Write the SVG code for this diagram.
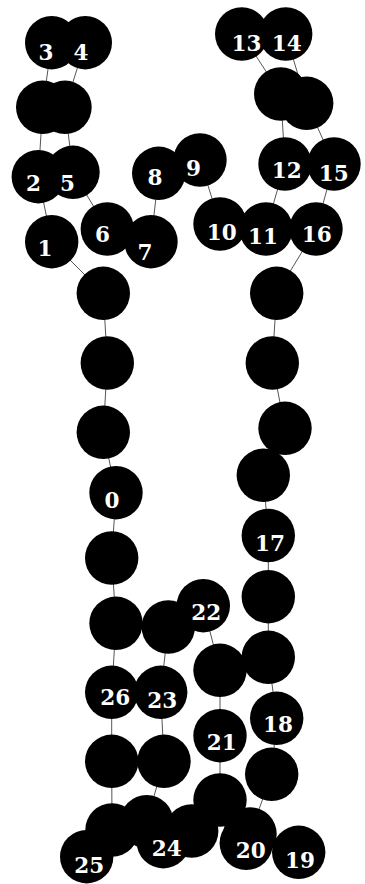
<svg xmlns="http://www.w3.org/2000/svg" width="365" height="884" viewBox="0 0 365 884">
<style>
.n{fill:#000}
.e{stroke:#555;stroke-width:1;fill:none}
.t{fill:#fff;font-family:"DejaVu Serif","Liberation Serif",serif;font-weight:bold;font-size:21.5px;text-anchor:middle}
</style>
<rect width="365" height="884" fill="#fff"/>
<g id="connectors">
<line class="e" x1="51.7" y1="42.7" x2="42.7" y2="107.3"/>
<line class="e" x1="85.3" y1="42.7" x2="65" y2="107.3"/>
<line class="e" x1="42.7" y1="107.3" x2="38.3" y2="176.7"/>
<line class="e" x1="65" y1="107.3" x2="73" y2="172.3"/>
<line class="e" x1="38.3" y1="176.7" x2="51.7" y2="241.7"/>
<line class="e" x1="73" y1="172.3" x2="107.3" y2="229"/>
<line class="e" x1="51.7" y1="241.7" x2="103.3" y2="293.3"/>
<line class="e" x1="151" y1="241.7" x2="158.7" y2="173.3"/>
<line class="e" x1="200" y1="160" x2="220" y2="224"/>
<line class="e" x1="241.7" y1="34" x2="280.7" y2="94"/>
<line class="e" x1="285.7" y1="34" x2="306.7" y2="103.3"/>
<line class="e" x1="280.7" y1="94" x2="285" y2="164"/>
<line class="e" x1="306.7" y1="103.3" x2="334" y2="164"/>
<line class="e" x1="285" y1="164" x2="266" y2="229"/>
<line class="e" x1="334" y1="164" x2="316" y2="229"/>
<line class="e" x1="316" y1="229" x2="276.7" y2="293.3"/>
<line class="e" x1="103.3" y1="293.3" x2="107.3" y2="363"/>
<line class="e" x1="107.3" y1="363" x2="103.3" y2="432.3"/>
<line class="e" x1="103.3" y1="432.3" x2="116" y2="492.7"/>
<line class="e" x1="116" y1="492.7" x2="111.7" y2="558"/>
<line class="e" x1="111.7" y1="558" x2="116" y2="623.3"/>
<line class="e" x1="116" y1="623.3" x2="111.7" y2="692.3"/>
<line class="e" x1="111.7" y1="692.3" x2="111.7" y2="761.3"/>
<line class="e" x1="111.7" y1="761.3" x2="112" y2="830"/>
<line class="e" x1="168.3" y1="627" x2="160.7" y2="692.3"/>
<line class="e" x1="160.7" y1="692.3" x2="164" y2="761.3"/>
<line class="e" x1="164" y1="761.3" x2="146.7" y2="821.7"/>
<line class="e" x1="203.3" y1="605.7" x2="220" y2="670.3"/>
<line class="e" x1="220" y1="670.3" x2="220" y2="735.7"/>
<line class="e" x1="220" y1="735.7" x2="220" y2="800"/>
<line class="e" x1="276.7" y1="293.3" x2="272.3" y2="363"/>
<line class="e" x1="272.3" y1="363" x2="285" y2="428.3"/>
<line class="e" x1="263.3" y1="475.3" x2="268.3" y2="535.5"/>
<line class="e" x1="268.3" y1="535.5" x2="268.3" y2="596.7"/>
<line class="e" x1="268.3" y1="596.7" x2="268.3" y2="657.3"/>
<line class="e" x1="268.3" y1="657.3" x2="276.7" y2="718.3"/>
<line class="e" x1="276.7" y1="718.3" x2="271.7" y2="774.3"/>
<line class="e" x1="271.7" y1="774.3" x2="250" y2="834"/>
</g>
<g id="u1"><circle class="n" cx="42.7" cy="107.3" r="26.7"/></g>
<g id="u2"><circle class="n" cx="65" cy="107.3" r="26.7"/></g>
<g id="u3"><circle class="n" cx="280.7" cy="94" r="26.7"/></g>
<g id="u4"><circle class="n" cx="306.7" cy="103.3" r="26.7"/></g>
<g id="u5"><circle class="n" cx="103.3" cy="293.3" r="26.7"/></g>
<g id="u6"><circle class="n" cx="107.3" cy="363" r="26.7"/></g>
<g id="u7"><circle class="n" cx="103.3" cy="432.3" r="26.7"/></g>
<g id="u8"><circle class="n" cx="111.7" cy="558" r="26.7"/></g>
<g id="u9"><circle class="n" cx="116" cy="623.3" r="26.7"/></g>
<g id="u10"><circle class="n" cx="111.7" cy="761.3" r="26.7"/></g>
<g id="u11"><circle class="n" cx="112" cy="830" r="26.7"/></g>
<g id="u12"><circle class="n" cx="146.7" cy="821.7" r="26.7"/></g>
<g id="u13"><circle class="n" cx="191.7" cy="831" r="26.7"/></g>
<g id="u14"><circle class="n" cx="168.3" cy="627" r="26.7"/></g>
<g id="u15"><circle class="n" cx="164" cy="761.3" r="26.7"/></g>
<g id="u16"><circle class="n" cx="220" cy="670.3" r="26.7"/></g>
<g id="u17"><circle class="n" cx="220" cy="800" r="26.7"/></g>
<g id="u18"><circle class="n" cx="276.7" cy="293.3" r="26.7"/></g>
<g id="u19"><circle class="n" cx="272.3" cy="363" r="26.7"/></g>
<g id="u20"><circle class="n" cx="285" cy="428.3" r="26.7"/></g>
<g id="u21"><circle class="n" cx="263.3" cy="475.3" r="26.7"/></g>
<g id="u22"><circle class="n" cx="268.3" cy="596.7" r="26.7"/></g>
<g id="u23"><circle class="n" cx="268.3" cy="657.3" r="26.7"/></g>
<g id="u24"><circle class="n" cx="271.7" cy="774.3" r="26.7"/></g>
<g id="u25"><circle class="n" cx="250" cy="834" r="26.7"/></g>
<g id="n0"><circle class="n" cx="116" cy="492.7" r="26.7"/><text class="t" x="112" y="507.5">0</text></g>
<g id="n1"><circle class="n" cx="51.7" cy="241.7" r="26.7"/><text class="t" x="45" y="255.5">1</text></g>
<g id="n2"><circle class="n" cx="38.3" cy="176.7" r="26.7"/><text class="t" x="33.5" y="190.5">2</text></g>
<g id="n3"><circle class="n" cx="51.7" cy="42.7" r="26.7"/><text class="t" x="46" y="60">3</text></g>
<g id="n4"><circle class="n" cx="85.3" cy="42.7" r="26.7"/><text class="t" x="81" y="60">4</text></g>
<g id="n5"><circle class="n" cx="73" cy="172.3" r="26.7"/><text class="t" x="67.5" y="190.5">5</text></g>
<g id="n6"><circle class="n" cx="107.3" cy="229" r="26.7"/><text class="t" x="102.5" y="242">6</text></g>
<g id="n7"><circle class="n" cx="151" cy="241.7" r="26.7"/><text class="t" x="145" y="259.5">7</text></g>
<g id="n8"><circle class="n" cx="158.7" cy="173.3" r="26.7"/><text class="t" x="155" y="185">8</text></g>
<g id="n9"><circle class="n" cx="200" cy="160" r="26.7"/><text class="t" x="193.5" y="175.5">9</text></g>
<g id="n10"><circle class="n" cx="220" cy="224" r="26.7"/><text class="t" x="221.7" y="239.5">10</text></g>
<g id="n11"><circle class="n" cx="266" cy="229" r="26.7"/><text class="t" x="263" y="243.5">11</text></g>
<g id="n12"><circle class="n" cx="285" cy="164" r="26.7"/><text class="t" x="286.7" y="177.5">12</text></g>
<g id="n14"><circle class="n" cx="285.7" cy="34" r="26.7"/><text class="t" x="286.7" y="51">14</text></g>
<g id="n13"><circle class="n" cx="241.7" cy="34" r="26.7"/><text class="t" x="246.5" y="51">13</text></g>
<g id="n15"><circle class="n" cx="334" cy="164" r="26.7"/><text class="t" x="333.7" y="181">15</text></g>
<g id="n16"><circle class="n" cx="316" cy="229" r="26.7"/><text class="t" x="316.7" y="242">16</text></g>
<g id="n17"><circle class="n" cx="268.3" cy="535.5" r="26.7"/><text class="t" x="270" y="551">17</text></g>
<g id="n18"><circle class="n" cx="276.7" cy="718.3" r="26.7"/><text class="t" x="278" y="732">18</text></g>
<g id="n19"><circle class="n" cx="298.7" cy="852.3" r="26.7"/><text class="t" x="300" y="868">19</text></g>
<g id="n20"><circle class="n" cx="246.3" cy="843.3" r="26.7"/><text class="t" x="250.7" y="858">20</text></g>
<g id="n21"><circle class="n" cx="220" cy="735.7" r="26.7"/><text class="t" x="221.7" y="749.5">21</text></g>
<g id="n22"><circle class="n" cx="203.3" cy="605.7" r="26.7"/><text class="t" x="206.3" y="619.5">22</text></g>
<g id="n23"><circle class="n" cx="160.7" cy="692.3" r="26.7"/><text class="t" x="162.3" y="708">23</text></g>
<g id="n24"><circle class="n" cx="163.3" cy="841.7" r="26.7"/><text class="t" x="166.7" y="855.5">24</text></g>
<g id="n25"><circle class="n" cx="86.7" cy="856.7" r="26.7"/><text class="t" x="89.3" y="872.5">25</text></g>
<g id="n26"><circle class="n" cx="111.7" cy="692.3" r="26.7"/><text class="t" x="115.3" y="705">26</text></g>
</svg>
